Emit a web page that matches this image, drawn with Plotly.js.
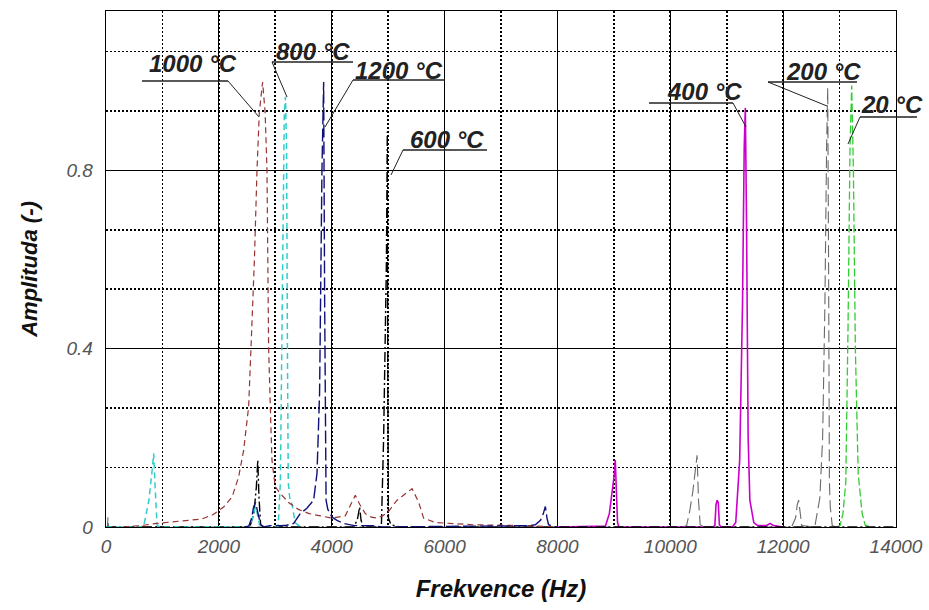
<!DOCTYPE html>
<html>
<head>
<meta charset="utf-8">
<script src="https://cdn.plot.ly/plotly-3.0.1.min.js"></script>
<style>html,body{margin:0;padding:0;background:#fff;}#chart{width:929px;height:610px;}</style>
</head>
<body>
<div id="chart"></div>
<script>
// ---- data ----
const seriesNames = ['20 °C', '200 °C', '400 °C', '600 °C', '800 °C', '1000 °C', '1200 °C'];

const x20 = [12950, 13010, 13060, 13110, 13150, 13185, 13215, 13245, 13280, 13330, 13400, 13455, 13550];
const y20 = [0, 0.004, 0.03, 0.1, 0.45, 0.85, 0.99, 0.8, 0.4, 0.12, 0.03, 0.004, 0];

const x200 = [0, 25, 35, 45, 60, 10200, 10290, 10350, 10400, 10440, 10475, 10500, 10530, 10600, 12150, 12220, 12250, 12275, 12300, 12330, 12560, 12600, 12650, 12700, 12740, 12770, 12790, 12805, 12820, 12835, 12850, 12870, 12950];
const y200 = [0, 0, 0.022, 0, 0, 0, 0.003, 0.04, 0.08, 0.12, 0.161, 0.06, 0.005, 0, 0, 0.02, 0.05, 0.06, 0.03, 0.003, 0, 0.03, 0.065, 0.2, 0.5, 0.85, 0.985, 0.6, 0.1, 0.045, 0.02, 0.003, 0];

const x400 = [8000, 8850, 8920, 8980, 9010, 9025, 9045, 9065, 9090, 10750, 10790, 10810, 10830, 10850, 10870, 10900, 11100, 11160, 11230, 11280, 11310, 11330, 11350, 11380, 11410, 11440, 11480, 11550, 11700, 11770, 11830, 12000];
const y400 = [0, 0.002, 0.03, 0.085, 0.12, 0.15, 0.06, 0.01, 0, 0, 0.003, 0.05, 0.06, 0.055, 0.005, 0, 0, 0.01, 0.15, 0.5, 0.85, 0.94, 0.7, 0.2, 0.06, 0.04, 0.01, 0.003, 0.003, 0.008, 0.003, 0];

const x600 = [0, 2500, 2560, 2620, 2665, 2690, 2710, 2740, 2800, 4400, 4460, 4494, 4520, 4560, 4880, 4905, 4920, 4970, 4985, 4995, 5005, 5050, 5200, 14000];
const y600 = [0, 0, 0.005, 0.03, 0.09, 0.15, 0.07, 0.005, 0, 0, 0.02, 0.045, 0.015, 0, 0, 0.1, 0.2, 0.6, 0.886, 0.3, 0.02, 0.005, 0, 0];

const x800 = [0, 600, 670, 760, 820, 845, 870, 905, 950, 2500, 2560, 2620, 2650, 2680, 2720, 2800, 3050, 3090, 3110, 3130, 3160, 3180, 3200, 3215, 3230, 3260, 3300, 3350, 3450];
const y800 = [0, 0, 0.003, 0.06, 0.13, 0.165, 0.09, 0.005, 0, 0, 0.005, 0.03, 0.045, 0.03, 0.005, 0, 0, 0.1, 0.35, 0.7, 0.93, 0.965, 0.85, 0.4, 0.1, 0.06, 0.05, 0.01, 0];

const x1000 = [300, 600, 900, 1200, 1500, 1700, 1900, 2085, 2233, 2350, 2439, 2528, 2569, 2630, 2676, 2717, 2775, 2820, 2853, 2882, 2912, 2941, 2970, 3000, 3089, 3236, 3400, 3600, 3800, 4000, 4240, 4330, 4418, 4500, 4595, 4700, 4800, 4900, 5003, 5157, 5300, 5424, 5540, 5628, 5835, 6100, 6500, 7000, 7500, 8000];
const y1000 = [0, 0.003, 0.008, 0.012, 0.015, 0.018, 0.028, 0.045, 0.067, 0.112, 0.172, 0.27, 0.4, 0.6, 0.8, 0.93, 0.998, 0.93, 0.8, 0.4, 0.27, 0.15, 0.12, 0.09, 0.075, 0.055, 0.04, 0.03, 0.025, 0.02, 0.025, 0.05, 0.071, 0.05, 0.03, 0.022, 0.02, 0.025, 0.034, 0.06, 0.075, 0.086, 0.056, 0.02, 0.01, 0.008, 0.005, 0.004, 0.003, 0];

const x1200 = [2450, 2530, 2580, 2616, 2650, 2690, 2740, 2800, 2900, 3100, 3200, 3325, 3443, 3560, 3679, 3739, 3785, 3827, 3857, 3875, 3886, 3900, 3930, 3975, 4005, 4093, 4211, 4400, 4800, 4850, 7500, 7607, 7700, 7750, 7786, 7815, 7843, 7900, 8000];
const y1200 = [0, 0.002, 0.02, 0.045, 0.055, 0.03, 0.005, 0, 0.003, 0.003, 0.004, 0.008, 0.03, 0.042, 0.06, 0.12, 0.3, 0.8, 0.998, 0.5, 0.097, 0.06, 0.04, 0.03, 0.022, 0.015, 0.008, 0.003, 0.003, 0, 0.003, 0.005, 0.015, 0.03, 0.046, 0.02, 0.005, 0.002, 0];

const xTickVals = [0, 2000, 4000, 6000, 8000, 10000, 12000, 14000];
const xTickText = ['0', '2000', '4000', '6000', '8000', '10000', '12000', '14000'];
const yTickVals = [0, 0.4, 0.8];
const yTickText = ['0', '0.4', '0.8'];

// ---- styles ----
const seriesX = [x20, x200, x400, x600, x800, x1000, x1200];
const seriesY = [y20, y200, y400, y600, y800, y1000, y1200];
const colors = ['#33cc33', '#6a6a6a', '#cc00cc', '#000000', '#33cccc', '#993333', '#10107a'];
const dashes = ['8px,3px', '12px,5px', 'solid', '10px,3px,2px,3px', '6px,4px', '6px,4px', '13px,4px'];
const widths = [1.3, 1.1, 1.6, 1.4, 1.5, 1.2, 1.4];

const traces = seriesNames.map((n, i) => ({
  type: 'scatter', mode: 'lines', name: n,
  x: seriesX[i], y: seriesY[i],
  line: {color: colors[i], dash: dashes[i], width: widths[i]},
  hoverinfo: 'skip'
}));

// label positions in pixels (text centre, underline, leader end)
const L = 106, T = 11, W = 790, H = 516;
const px = v => (v - L) / W;
const py = v => (T + H - v) / H;
const labelDefs = [
  {text: '1000 °C', tx: 193, ty: 64, u0: 142, u1: 228, uy: 81, from: 'r', lx: 259, ly: 117},
  {text: '800 °C', tx: 313, ty: 51, u0: 272, u1: 353, uy: 62, from: 'l', lx: 287, ly: 97},
  {text: '1200 °C', tx: 399, ty: 70, u0: 353, u1: 445, uy: 80, from: 'l', lx: 325, ly: 127},
  {text: '600 °C', tx: 447, ty: 139, u0: 403, u1: 487, uy: 150, from: 'l', lx: 391, ly: 175},
  {text: '400 °C', tx: 704, ty: 91, u0: 649, u1: 733, uy: 103, from: 'r', lx: 746, ly: 127},
  {text: '200 °C', tx: 823, ty: 71, u0: 768, u1: 857, uy: 82, from: 'l', lx: 827, ly: 106},
  {text: '20 °C', tx: 892, ty: 104, u0: 860, u1: 917, uy: 117, from: 'l', lx: 848, ly: 144}
];
const annotations = labelDefs.map(d => ({
  xref: 'paper', yref: 'paper', x: px(d.tx), y: py(d.ty), xanchor: 'center', yanchor: 'middle',
  text: d.text, showarrow: false,
  font: {family: 'Arial, Liberation Sans, sans-serif', size: 24, color: '#222', weight: 'bold', style: 'italic'}
}));
const shapes = [];
labelDefs.forEach(d => {
  shapes.push({type: 'line', xref: 'paper', yref: 'paper', x0: px(d.u0), x1: px(d.u1), y0: py(d.uy), y1: py(d.uy), line: {color: '#222', width: 1.3}});
  const sx = d.from === 'l' ? d.u0 : d.u1;
  shapes.push({type: 'line', xref: 'paper', yref: 'paper', x0: px(sx), x1: px(d.lx), y0: py(d.uy), y1: py(d.ly), line: {color: '#222', width: 1}});
});

const tickFont = {family: 'Arial, Liberation Sans, sans-serif', size: 19, color: '#555', style: 'italic'};
const titleFont = {family: 'Arial, Liberation Sans, sans-serif', color: '#111', weight: 'bold', style: 'italic'};

const layout = {
  width: 929, height: 610,
  margin: {l: L, r: 929 - L - W, t: T, b: 610 - T - H},
  paper_bgcolor: '#fff', plot_bgcolor: '#fff',
  showlegend: false,
  xaxis: {
    range: [0, 14000], tickvals: xTickVals, ticktext: xTickText, ticks: '', tickfont: tickFont,
    showgrid: true, gridcolor: '#000', gridwidth: 1.2,
    minor: {dtick: 1000, tick0: 0, showgrid: true, gridcolor: '#000', gridwidth: 1.6, griddash: '2px,2px', ticks: ''},
    showline: true, linecolor: '#000', linewidth: 1.3, mirror: true, zeroline: false,
    ticklabelstandoff: 2,
    title: {text: 'Frekvence (Hz)', font: Object.assign({size: 24}, titleFont), standoff: 24}
  },
  yaxis: {
    range: [0, 1.1573], tickvals: yTickVals, ticktext: yTickText, ticks: '', tickfont: tickFont,
    showgrid: true, gridcolor: '#000', gridwidth: 1.2,
    minor: {dtick: 0.4 / 3, tick0: 0, showgrid: true, gridcolor: '#000', gridwidth: 1.6, griddash: '2px,2px', ticks: ''},
    showline: true, linecolor: '#000', linewidth: 1.3, mirror: true, zeroline: false,
    ticklabelstandoff: 8,
    title: {text: 'Amplituda (-)', font: Object.assign({size: 22}, titleFont), standoff: 22}
  },
  annotations: annotations,
  shapes: shapes
};

Plotly.newPlot('chart', traces, layout, {displayModeBar: false, staticPlot: true});
</script>
</body>
</html>
